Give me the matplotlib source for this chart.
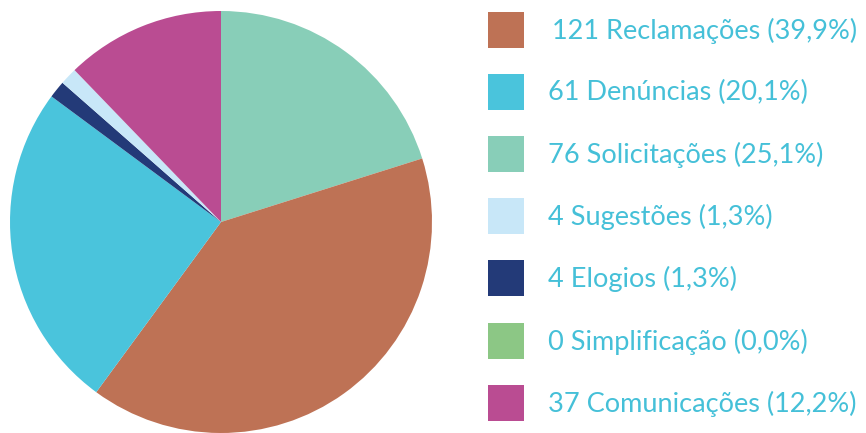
import matplotlib
matplotlib.use("Agg")
import matplotlib.pyplot as plt
from matplotlib.patches import Rectangle

# dados da legenda
categorias = ["Reclamações", "Denúncias", "Solicitações", "Sugestões",
              "Elogios", "Simplificação", "Comunicações"]
quantidades = [121, 61, 76, 4, 4, 0, 37]
percentuais = ["39,9%", "20,1%", "25,1%", "1,3%", "1,3%", "0,0%", "12,2%"]
cores = ["#BE7255", "#4AC4DC", "#88CEB8", "#C8E7F8", "#233A78", "#8CC785", "#BA4C92"]

# ordem das fatias no gráfico (sentido horário a partir do topo)
fatias_valores = [61, 121, 76, 4, 4, 37]
fatias_cores = ["#88CEB8", "#BE7255", "#4AC4DC", "#233A78", "#C8E7F8", "#BA4C92"]

W, H = 866, 433
fig = plt.figure(figsize=(W / 100, H / 100), dpi=100)

# pizza
ax = fig.add_axes([10 / W, 0, 422 / W, 422 / H])
ax.pie(fatias_valores, colors=fatias_cores, startangle=90, counterclock=False,
       radius=1.0, wedgeprops=dict(linewidth=0))
ax.set_xlim(-1, 1)
ax.set_ylim(-1, 1)
ax.set_aspect("equal")
ax.axis("off")

# legenda desenhada à mão
lg = fig.add_axes([0, 0, 1, 1])
lg.set_xlim(0, W)
lg.set_ylim(H, 0)
lg.axis("off")
y0, passo = 29.5, 62.2
for i, (cat, q, p, c) in enumerate(zip(categorias, quantidades, percentuais, cores)):
    y = y0 + i * passo
    lg.add_patch(Rectangle((488, y - 18), 36, 36, facecolor=c, edgecolor="none"))
    x_txt = 552 if i == 0 else 548
    lg.text(x_txt, y + 1, f"{q} {cat} ({p})", color="#45C0D8", fontsize=19.5,
            family=["Lato", "DejaVu Sans"], fontweight="normal",
            va="center", ha="left")

fig.savefig("out.png", dpi=100, facecolor="white")
